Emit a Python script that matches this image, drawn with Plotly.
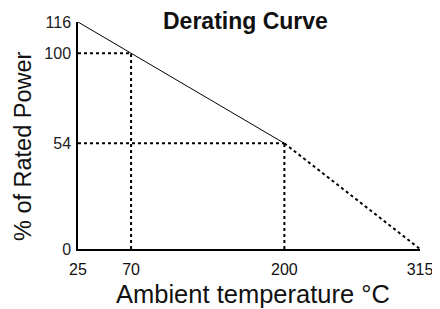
import plotly.graph_objects as go

# Data
curve_temp = [25, 70, 200]
curve_power = [116, 100, 54]
extension_temp = [200, 315]
extension_power = [54, 0]
ref_temp = [70, 200]
ref_power = [100, 54]
x_ticks = [25, 70, 200, 315]
y_ticks = [0, 54, 100, 116]

fig = go.Figure()

# Guide lines (dotted)
for t, p in zip(ref_temp, ref_power):
    fig.add_trace(go.Scatter(x=[t, t], y=[0, p], mode="lines",
                             line=dict(color="black", width=2, dash="3px,3px"),
                             hoverinfo="skip", showlegend=False, cliponaxis=False))
    fig.add_trace(go.Scatter(x=[x_ticks[0], t], y=[p, p], mode="lines",
                             line=dict(color="black", width=2, dash="3px,3px"),
                             hoverinfo="skip", showlegend=False, cliponaxis=False))

fig.add_trace(go.Scatter(x=curve_temp, y=curve_power, mode="lines",
                         line=dict(color="black", width=1), showlegend=False,
                         cliponaxis=False))
fig.add_trace(go.Scatter(x=extension_temp, y=extension_power, mode="lines",
                         line=dict(color="black", width=2, dash="3px,3px"),
                         showlegend=False, cliponaxis=False))

font_family = "Liberation Sans, Arial, sans-serif"

# page body has an 8px margin, so the figure is sized to fit the 440x309 window
fig.update_layout(
    width=432, height=301,
    margin=dict(l=70, r=20, t=14, b=60, autoexpand=False),
    paper_bgcolor="white", plot_bgcolor="white",
    font=dict(family=font_family, color="black"),
    annotations=[
        dict(text="<b>Derating Curve</b>", xref="paper", yref="paper",
             x=(245 - 78) / 342, y=1 + 1.5 / 227, xanchor="center", yanchor="middle",
             showarrow=False, font=dict(size=23, color="#111")),
        dict(text="Ambient temperature °C", xref="paper", yref="paper",
             x=(253 - 78) / 342, y=(249 - 294) / 227, xanchor="center", yanchor="middle",
             showarrow=False, font=dict(size=25.5, color="#111")),
        dict(text="% of Rated Power", xref="paper", yref="paper", textangle=-90,
             x=(23 - 78) / 342, y=(249 - 146) / 227, xanchor="center", yanchor="middle",
             showarrow=False, font=dict(size=23.5, color="#111")),
    ],
    xaxis=dict(range=[25, 315], tickvals=x_ticks, ticktext=[str(v) for v in x_ticks],
               showgrid=False, zeroline=False, showline=True, linecolor="black",
               linewidth=1.5, ticks="outside", ticklen=5, tickcolor="rgba(0,0,0,0)",
               tickfont=dict(size=16, color="#111"), automargin=False),
    yaxis=dict(range=[0, 116], tickvals=y_ticks, ticktext=[str(v) for v in y_ticks],
               showgrid=False, zeroline=False, showline=True, linecolor="black",
               linewidth=1.5, ticks="outside", ticklen=2, tickcolor="rgba(0,0,0,0)",
               tickfont=dict(size=16, color="#222"), automargin=False),
)

fig.write_html("out.html")
